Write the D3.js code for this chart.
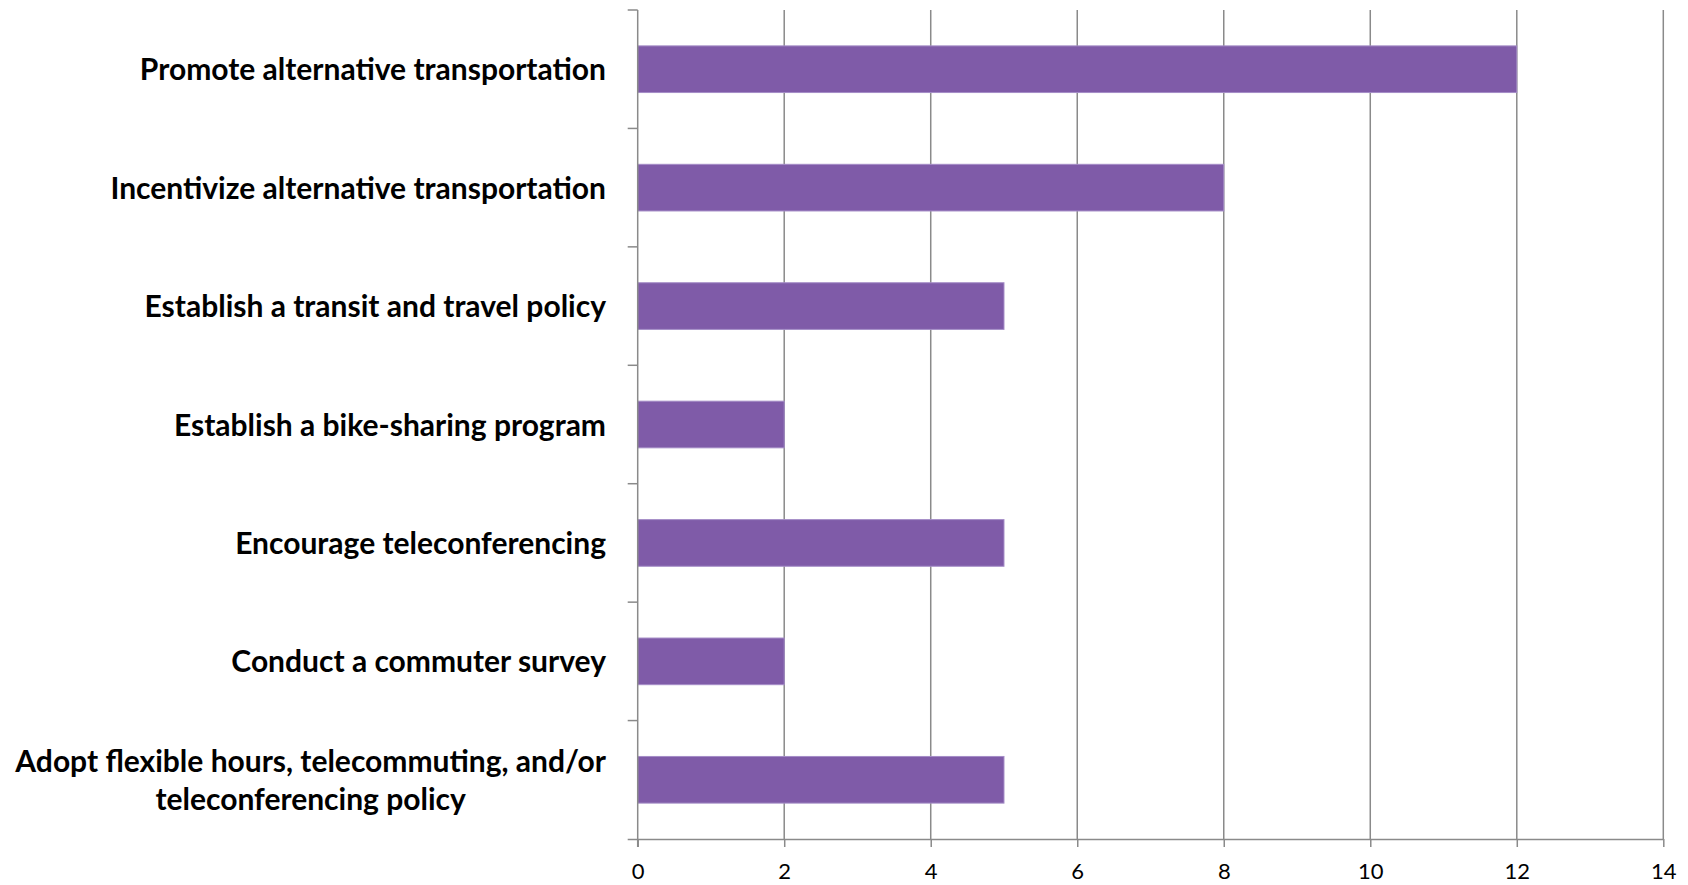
<!DOCTYPE html>
<html><head><meta charset="utf-8">
<script src="https://cdn.jsdelivr.net/npm/d3@7"></script>
<style>body{margin:0;background:#fff}svg{display:block}</style>
</head><body>
<svg id="c" width="1688" height="885"></svg>
<script>
const categories = [
  ["Promote alternative transportation"],
  ["Incentivize alternative transportation"],
  ["Establish a transit and travel policy"],
  ["Establish a bike-sharing program"],
  ["Encourage teleconferencing"],
  ["Conduct a commuter survey"],
  ["Adopt flexible hours, telecommuting, and/or", "teleconferencing policy"]
];
const values = [12, 8, 5, 2, 5, 2, 5];
const xTicks = [0, 2, 4, 6, 8, 10, 12, 14];

const svg = d3.select("#c");
const m = {left: 637.7, right: 1663.3, top: 10, bottom: 839};
const x = d3.scaleLinear().domain([0, 14]).range([m.left, m.right]);
const y = d3.scaleBand().domain(d3.range(categories.length)).range([m.top, m.bottom]).paddingInner(0.606).paddingOuter(0.303);
const band = d3.scaleBand().domain(d3.range(categories.length)).range([m.top, m.bottom]);
const axisColor = "#8a8a8a";

// gridlines
svg.append("g").selectAll("line").data(xTicks.slice(1)).join("line")
  .attr("x1", d => x(d)).attr("x2", d => x(d))
  .attr("y1", m.top).attr("y2", m.bottom)
  .attr("stroke", axisColor).attr("stroke-width", 1.5);

// bars
svg.append("g").selectAll("rect").data(values).join("rect")
  .attr("x", x(0)).attr("y", (d, i) => y(i))
  .attr("width", d => x(d) - x(0)).attr("height", y.bandwidth())
  .attr("fill", "#7f5ba8").attr("stroke", "#a58dc7").attr("stroke-width", 1);

// x axis
const xa = svg.append("g").attr("transform", `translate(0,${m.bottom})`)
  .call(d3.axisBottom(x).tickValues(xTicks).tickSize(8).tickSizeOuter(0).tickPadding(16));
xa.select(".domain").attr("stroke", axisColor).attr("stroke-width", 1.5).attr("d", `M${m.left - 10},0.5H${m.right}`);
xa.selectAll(".tick line").attr("stroke", axisColor).attr("stroke-width", 1.5);
xa.selectAll(".tick text").attr("font-family", "Lato, 'Open Sans', sans-serif").attr("font-size", 22).attr("fill", "#000");

// y axis with category ticks at band boundaries
const ya = svg.append("g");
ya.append("line").attr("x1", m.left).attr("x2", m.left).attr("y1", m.top).attr("y2", m.bottom + 8)
  .attr("stroke", axisColor).attr("stroke-width", 1.5);
const bounds = d3.range(categories.length).map(i => band(i));
ya.selectAll("line.t").data(bounds).join("line").attr("class", "t")
  .attr("x1", m.left - 10).attr("x2", m.left).attr("y1", d => d).attr("y2", d => d)
  .attr("stroke", axisColor).attr("stroke-width", 1.5);

// labels
const lg = svg.append("g").attr("font-family", "Lato, 'Open Sans', sans-serif").attr("font-weight", "bold").attr("font-size", 30).attr("fill", "#000");
categories.forEach((lines, i) => {
  const cy = band(i) + band.bandwidth() / 2;
  const t = lg.append("text").attr("dominant-baseline", "central");
  if (lines.length === 1) {
    t.attr("x", 606).attr("y", cy - 1).attr("text-anchor", "end").text(lines[0]);
  } else {
    const tmp = lg.append("text").text(lines[0]);
    const w = tmp.node().getComputedTextLength(); tmp.remove();
    t.attr("text-anchor", "middle");
    lines.forEach((s, j) => t.append("tspan").attr("x", 606 - w / 2).attr("y", cy - 20 + j * 38).text(s));
  }
});
</script>
</body></html>
